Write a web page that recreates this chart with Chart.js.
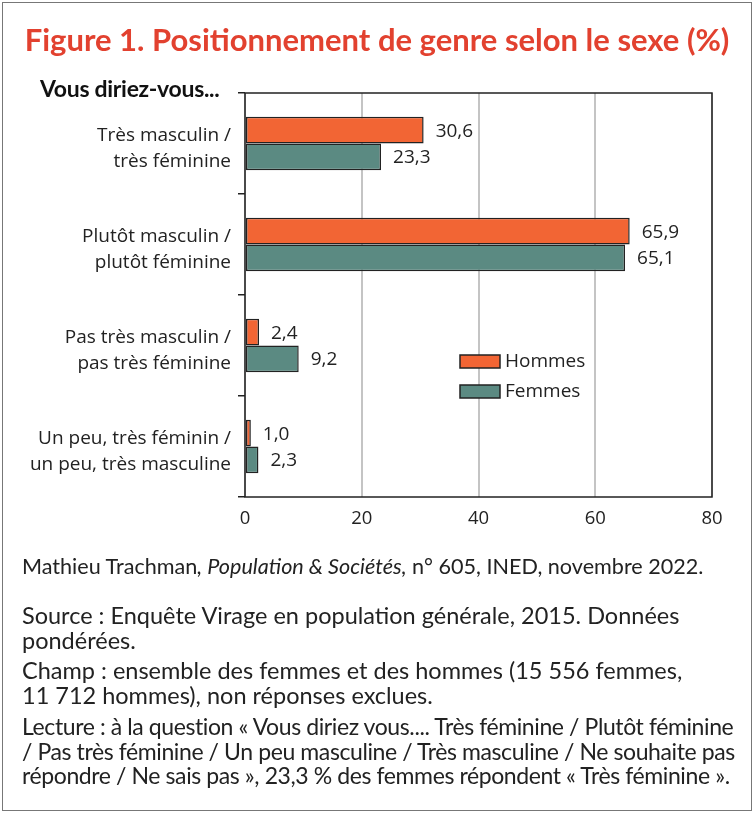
<!DOCTYPE html>
<html>
<head>
<meta charset="utf-8">
<script src="https://cdn.jsdelivr.net/npm/chart.js@4.4.0/dist/chart.umd.min.js"></script>
<style>
  body { margin: 0; background: #fff; }
  #wrap { position: relative; width: 754px; height: 813px; overflow: hidden; }
  #frame { position: absolute; left: 2px; top: 2px; width: 750px; height: 809px; box-sizing: border-box; border: 1.5px solid #777; }
  #title { position: absolute; top: 20px; left: 0; width: 754px; text-align: center; font: 700 31px Lato, sans-serif; color: #e2412f; white-space: nowrap; }
  #question { position: absolute; top: 74px; left: 40px; font: 700 23px Lato, sans-serif; color: #111; letter-spacing: -0.3px; }
  #chart { position: absolute; left: 0; top: 0; }
  .note { position: absolute; left: 22px; font: 23.5px Lato, sans-serif; color: #222; line-height: 24.5px; white-space: nowrap; }
  .credit { font-size: 21.6px; }
  .tight { font-size: 23px; letter-spacing: -0.4px; }
</style>
</head>
<body>
<div id="wrap">
  <canvas id="chart" width="754" height="540"></canvas>
  <div id="frame"></div>
  <div id="title">Figure 1. Positionnement de genre selon le sexe (%)</div>
  <div id="question">Vous diriez-vous...</div>
  <div class="note credit" style="top:554px">Mathieu Trachman<i>, Population &amp; Sociétés,</i> n° 605, INED, novembre 2022.</div>
  <div class="note" style="top:603px">Source : Enquête Virage en population générale, 2015. Données<br>pondérées.</div>
  <div class="note" style="top:658px">Champ : ensemble des femmes et des hommes (15 556 femmes,<br>11 712 hommes), non réponses exclues.</div>
  <div class="note tight" style="top:714px">Lecture : à la question « Vous diriez vous.... Très féminine / Plutôt féminine<br>/ Pas très féminine / Un peu masculine / Très masculine / Ne souhaite pas<br>répondre / Ne sais pas », 23,3 % des femmes répondent « Très féminine ».</div>
</div>
<script>
// Data
const categories = [
  ['Très masculin /', 'très féminine'],
  ['Plutôt masculin /', 'plutôt féminine'],
  ['Pas très masculin /', 'pas très féminine'],
  ['Un peu, très féminin /', 'un peu, très masculine']
];
const hommes = [30.6, 65.9, 2.4, 1.0];
const femmes = [23.3, 65.1, 9.2, 2.3];
const xTicks = [0, 20, 40, 60, 80];

const seriesNames = ['Hommes', 'Femmes'];
const seriesColors = ['#f26534', '#5b8a82'];
const textFont = '"Open Sans", sans-serif';

// Value labels next to each bar
const valueLabels = {
  id: 'valueLabels',
  afterDatasetsDraw(chart) {
    const ctx = chart.ctx;
    ctx.save();
    ctx.font = '19px ' + textFont;
    ctx.fillStyle = '#222';
    ctx.textBaseline = 'middle';
    chart.data.datasets.forEach((ds, i) => {
      chart.getDatasetMeta(i).data.forEach((bar, j) => {
        const txt = ds.data[j].toFixed(1).replace('.', ',');
        ctx.fillText(txt, bar.x + 12, bar.y + 1);
      });
    });
    ctx.restore();
  }
};

// Black box round the plot, and the legend inside it
const boxAndLegend = {
  id: 'boxAndLegend',
  afterDraw(chart) {
    const ctx = chart.ctx;
    const a = chart.chartArea;
    ctx.save();
    ctx.strokeStyle = '#222';
    ctx.lineWidth = 1.5;
    ctx.strokeRect(a.left, a.top, a.right - a.left, a.bottom - a.top);

    ctx.font = '19px ' + textFont;
    ctx.textBaseline = 'middle';
    chart.data.datasets.forEach((ds, i) => {
      const y = 355 + i * 30;
      ctx.fillStyle = ds.backgroundColor;
      ctx.fillRect(460, y, 40, 13);
      ctx.strokeRect(460, y, 40, 13);
      ctx.fillStyle = '#222';
      ctx.fillText(ds.label, 505, y + 7);
    });
    ctx.restore();
  }
};

const ctx = document.getElementById('chart').getContext('2d');
const chart = new Chart(ctx, {
  type: 'bar',
  data: {
    labels: categories,
    datasets: [
      { label: seriesNames[0], data: hommes, backgroundColor: seriesColors[0] },
      { label: seriesNames[1], data: femmes, backgroundColor: seriesColors[1] }
    ]
  },
  options: {
    indexAxis: 'y',
    responsive: false,
    animation: false,
    layout: { padding: { top: 93, right: 42, left: 0, bottom: 0 } },
    datasets: {
      bar: {
        categoryPercentage: 0.53,
        barPercentage: 1,
        borderColor: '#222',
        borderWidth: 1.5,
        borderSkipped: false
      }
    },
    plugins: {
      legend: { display: false },
      tooltip: { enabled: false }
    },
    scales: {
      x: {
        min: xTicks[0],
        max: xTicks[xTicks.length - 1],
        afterBuildTicks: s => { s.ticks = xTicks.map(v => ({ value: v })); },
        afterFit: s => { s.height = 43; },
        ticks: { font: { family: textFont, size: 18.5 }, color: '#222', padding: 11 },
        grid: { color: '#c4c4c4', lineWidth: 2, drawTicks: false },
        border: { display: false }
      },
      y: {
        afterFit: s => { s.width = 245; },
        ticks: { font: { family: textFont, size: 19, lineHeight: 1.4 }, color: '#222', padding: 7, labelOffset: 5 },
        grid: { offset: true, drawOnChartArea: false, tickLength: 7, color: '#222', lineWidth: 1.5 },
        border: { display: false }
      }
    }
  },
  plugins: [valueLabels, boxAndLegend]
});
</script>
</body>
</html>
